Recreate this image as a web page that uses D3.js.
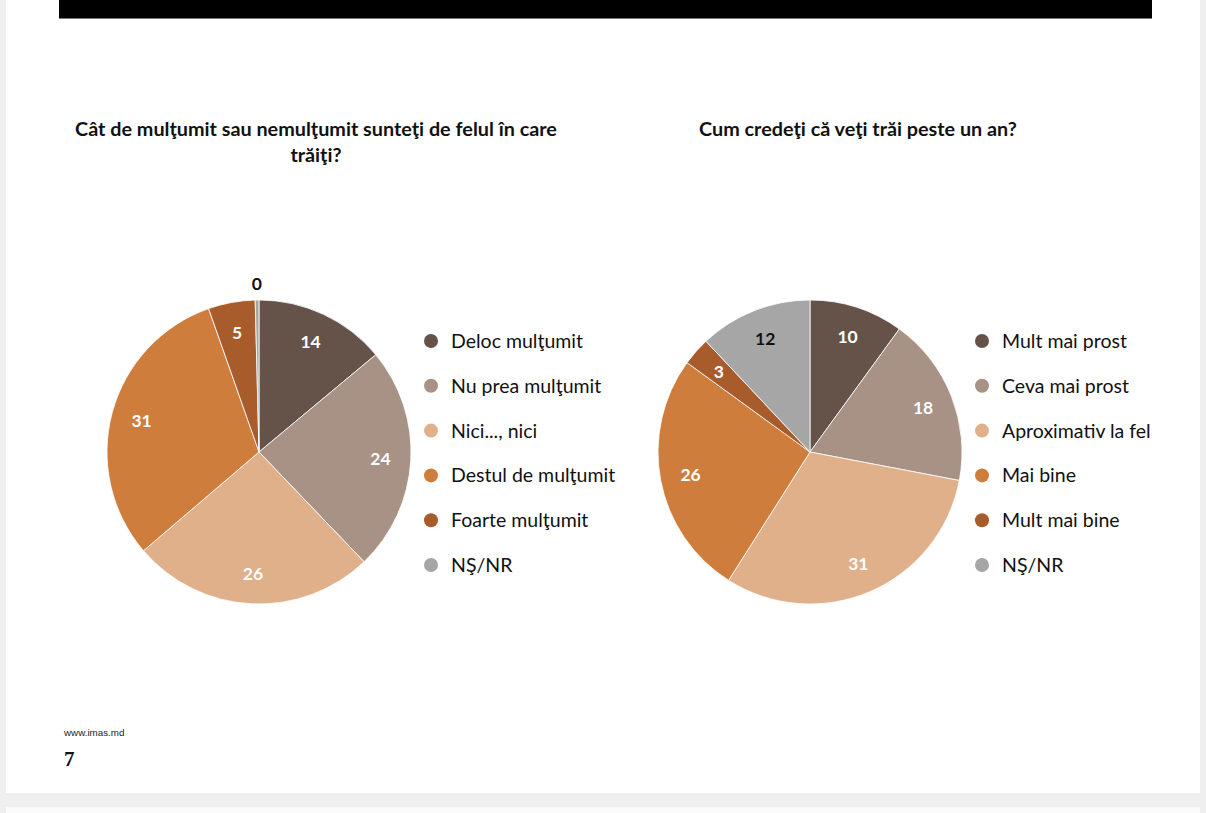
<!DOCTYPE html>
<html><head><meta charset="utf-8">
<script src="https://cdn.jsdelivr.net/npm/d3@7"></script>
<style>
html,body{margin:0;padding:0;background:#efefef;}
svg{display:block;}
</style></head>
<body>
<svg id="chart" width="1206" height="813"></svg>
<script>
const categories1 = ["Deloc mulţumit","Nu prea mulţumit","Nici..., nici","Destul de mulţumit","Foarte mulţumit","NŞ/NR"];
const values1 = [14, 24, 26, 31, 5, 0.4];
const labels1 = ["14","24","26","31","5","0"];
const categories2 = ["Mult mai prost","Ceva mai prost","Aproximativ la fel","Mai bine","Mult mai bine","NŞ/NR"];
const values2 = [10, 18, 31, 26, 3, 12];
const labels2 = ["10","18","31","26","3","12"];
const colors = ["#65534a","#a89185","#e0b08a","#cf7d3d","#a85c2c","#a6a6a6"];
const title1 = ["Cât de mulţumit sau nemulţumit sunteţi de felul în care","trăiţi?"];
const title2 = ["Cum credeţi că veţi trăi peste un an?"];

const svg = d3.select("#chart");
// page sheets
svg.append("rect").attr("x",6).attr("y",0).attr("width",1194).attr("height",793).attr("fill","#ffffff");
svg.append("rect").attr("x",6).attr("y",807).attr("width",1194).attr("height",10).attr("fill","#fbfbfb");
// top black bar
svg.append("rect").attr("x",59).attr("y",0).attr("width",1093).attr("height",18).attr("fill","#000");
svg.append("rect").attr("x",59).attr("y",18).attr("width",1093).attr("height",1).attr("fill","#777");

const font = "Lato, 'Open Sans', sans-serif";
const R = 152;

function drawPie(cx, cy, values, labels, cats, title, titleCx, legendX, darkLabelIdx, outsideIdx){
  const g = svg.append("g").attr("transform",`translate(${cx},${cy})`);
  const pie = d3.pie().sort(null).value(d=>d);
  const arcs = pie(values);
  const arc = d3.arc().innerRadius(0).outerRadius(R);
  const lab = d3.arc().innerRadius(R*0.8).outerRadius(R*0.8);
  const out = d3.arc().innerRadius(R*1.11).outerRadius(R*1.11);
  g.selectAll("path").data(arcs).join("path")
    .attr("d",arc).attr("fill",(d,i)=>colors[i])
    .attr("stroke","#fff").attr("stroke-width",0.8);
  g.selectAll("text.lbl").data(arcs).join("text").attr("class","lbl")
    .attr("transform",(d,i)=>`translate(${(i===outsideIdx?out:lab).centroid(d)})`)
    .attr("text-anchor","middle").attr("dy","0.36em")
    .attr("font-family",font).attr("font-weight","bold").attr("font-size",17.5)
    .attr("fill",(d,i)=> (i===outsideIdx||i===darkLabelIdx) ? "#111" : "#fff")
    .text((d,i)=>labels[i]);
  // title
  const t = svg.append("text").attr("font-family",font).attr("font-weight","bold")
    .attr("font-size",19.8).attr("fill","#111").attr("text-anchor","middle");
  title.forEach((line,k)=>t.append("tspan").attr("x",titleCx).attr("y",136+k*26).text(line));
  // legend
  const ly = d3.scalePoint().domain(cats).range([341,565]);
  const lg = svg.append("g");
  cats.forEach((c,i)=>{
    lg.append("circle").attr("cx",legendX).attr("cy",ly(c)).attr("r",7).attr("fill",colors[i]);
    lg.append("text").attr("x",legendX+20).attr("y",ly(c)).attr("dy","0.36em")
      .attr("font-family",font).attr("font-size",19.5).attr("fill","#111").text(c);
  });
}

drawPie(259, 452, values1, labels1, categories1, title1, 316, 431, -1, 5);
drawPie(810, 452, values2, labels2, categories2, title2, 858, 982, 5, -1);

// footer
svg.append("text").attr("x",64).attr("y",736).attr("font-family","'Liberation Sans Narrow','Liberation Sans',sans-serif")
  .attr("font-size",9.8).attr("fill","#222").text("www.imas.md");
svg.append("text").attr("x",64).attr("y",766).attr("font-family","'Liberation Serif',serif")
  .attr("font-weight","bold").attr("font-size",21).attr("fill","#111").text("7");
</script>
</body></html>
